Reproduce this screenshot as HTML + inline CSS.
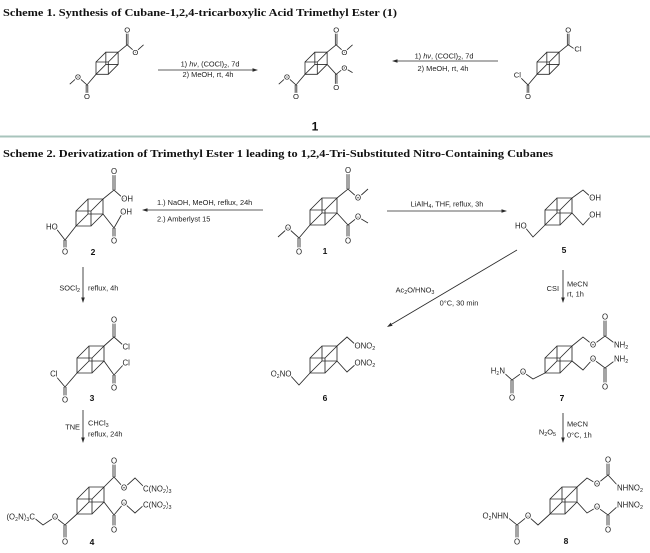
<!DOCTYPE html>
<html><head><meta charset="utf-8"><style>
html,body{margin:0;padding:0;background:#fff;}
svg{display:block;}
.ln{fill:none;stroke:#2a2a2a;stroke-width:0.85;}
.ln9{fill:none;stroke:#2a2a2a;stroke-width:1.0;}
.a{font-family:"Liberation Sans",Arial,sans-serif;font-size:7.8px;fill:#222;paint-order:stroke;stroke:#fff;stroke-width:2.5px;stroke-linejoin:round;}
.a9{font-family:"Liberation Sans",Arial,sans-serif;font-size:9.3px;fill:#222;paint-order:stroke;stroke:#fff;stroke-width:3px;stroke-linejoin:round;}
.r{font-family:"Liberation Sans",Arial,sans-serif;font-size:7.4px;fill:#222;}
.num{font-family:"Liberation Sans",Arial,sans-serif;font-size:8.5px;font-weight:bold;fill:#111;text-anchor:middle;}
.tt{font-family:"Liberation Serif",serif;font-size:11px;font-weight:bold;fill:#111;}
.s{font-size:5.4px;}
.m{text-anchor:middle;}
.e{text-anchor:end;}
</style></head><body>
<svg width="650" height="553" viewBox="0 0 650 553" xmlns="http://www.w3.org/2000/svg">
<defs>
<path id="cube" d="M0,0H15V15H0Z M12,-12H27V3H12Z M0,0L12,-12 M15,0L27,-12 M15,15L27,3 M0,15L12,3"/>
<path id="e1" d="M27,-12L38,-21L48,-12L58,-21M37,-21V-36M39,-21V-36"/>
<path id="e2" d="M27,3L38,15L48,7L58,13M37,15V28M39,15V28"/>
<path id="e4" d="M0,15L-11,28L-22,18L-32,27M-12,28V40M-10,28V40"/>
</defs>

<!-- Titles -->
<text class="tt" x="3" y="16" textLength="394" lengthAdjust="spacingAndGlyphs">Scheme 1. Synthesis of Cubane-1,2,4-tricarboxylic Acid Trimethyl Ester (1)</text>
<rect x="0" y="135.5" width="650" height="2" fill="#a8c4bc"/>
<text class="tt" x="3" y="157" textLength="550" lengthAdjust="spacingAndGlyphs">Scheme 2. Derivatization of Trimethyl Ester 1 leading to 1,2,4-Tri-Substituted Nitro-Containing Cubanes</text>

<!-- ===== Scheme 1 ===== -->
<g transform="translate(96,62) scale(0.82)">
  <g class="ln9"><use href="#cube"/><use href="#e1"/><use href="#e4"/></g>
  <text class="a9 m" x="38" y="-36.2">O</text>
  <text class="a9 m" x="48" y="-8.7">O</text>
  <text class="a9 m" x="-11" y="45.3">O</text>
  <text class="a9 m" x="-22" y="21.3">O</text>
</g>

<g transform="translate(305,62) scale(0.82)">
  <g class="ln9"><use href="#cube"/><use href="#e1"/><use href="#e2"/><use href="#e4"/></g>
  <text class="a9 m" x="38" y="-36.2">O</text>
  <text class="a9 m" x="48" y="-8.7">O</text>
  <text class="a9 m" x="38" y="34.3">O</text>
  <text class="a9 m" x="48" y="10.3">O</text>
  <text class="a9 m" x="-11" y="45.3">O</text>
  <text class="a9 m" x="-22" y="21.3">O</text>
</g>
<text x="315" y="130.3" font-family="Liberation Sans, Arial, sans-serif" font-size="12" font-weight="bold" fill="#111" text-anchor="middle">1</text>

<g transform="translate(537,62) scale(0.82)">
  <g class="ln9"><use href="#cube"/>
    <path d="M27,-12L38,-21L47,-15M37,-21V-36M39,-21V-36 M0,15L-11,28L-20,19M-12,28V40M-10,28V40"/></g>
  <text class="a9 m" x="38" y="-36.2">O</text>
  <text class="a9 m" x="50" y="-12.7">Cl</text>
  <text class="a9 m" x="-11" y="45.3">O</text>
  <text class="a9 m" x="-24" y="19.2">Cl</text>
</g>

<!-- Scheme 1 arrows -->
<g class="ln"><line x1="158" y1="70" x2="253" y2="70"/><line x1="397" y1="61" x2="498" y2="61"/></g>
<polygon points="258,70 252.5,68.2 252.5,71.8" fill="#2a2a2a"/>
<polygon points="392,61 397.5,59.2 397.5,62.8" fill="#2a2a2a"/>
<text class="r m" x="210" y="66.5">1) <tspan font-style="italic">hν</tspan>, (COCl)<tspan class="s" dy="1.5">2</tspan><tspan dy="-1.5">, 7d</tspan></text>
<text class="r m" x="208" y="77">2) MeOH, rt, 4h</text>
<text class="r m" x="444" y="58.5">1) <tspan font-style="italic">hν</tspan>, (COCl)<tspan class="s" dy="1.5">2</tspan><tspan dy="-1.5">, 7d</tspan></text>
<text class="r m" x="443" y="71">2) MeOH, rt, 4h</text>

<!-- ===== Scheme 2 ===== -->
<!-- compound 1 -->
<g transform="translate(310,210)">
  <g class="ln"><use href="#cube"/><use href="#e1"/><use href="#e2"/><use href="#e4"/></g>
  <text class="a m" x="38" y="-36.8">O</text>
  <text class="a m" x="48" y="-9.3">O</text>
  <text class="a m" x="38" y="33.7">O</text>
  <text class="a m" x="48" y="9.7">O</text>
  <text class="a m" x="-11" y="44.7">O</text>
  <text class="a m" x="-22" y="20.7">O</text>
  <text class="num" x="15" y="44">1</text>
</g>

<!-- compound 2 -->
<g transform="translate(76,211)">
  <g class="ln"><use href="#cube"/>
  <path d="M27,-12L38,-21L48,-12 M37,-21V-36M39,-21V-36 M27,3L38,17L47,1 M37,17V28M39,17V28 M0,15L-11,29L-21,16 M-12,29V40M-10,29V40"/></g>
  <text class="a m" x="38" y="-36.8">O</text>
  <text class="a" x="45.3" y="-9.3">OH</text>
  <text class="a m" x="38" y="32.7">O</text>
  <text class="a" x="44.3" y="3.7">OH</text>
  <text class="a m" x="-11" y="43.7">O</text>
  <text class="a e" x="-18.3" y="18.7">HO</text>
  <text class="num" x="17" y="44">2</text>
</g>

<!-- compound 3 -->
<g transform="translate(77,358)">
  <g class="ln"><use href="#cube"/>
  <path d="M27,-12L37,-21L47,-12 M36,-21V-35M38,-21V-35 M27,3L37,17L47,6 M36,17V28M38,17V28 M0,15L-12,29L-22,17 M-13,29V40M-11,29V40"/></g>
  <text class="a m" x="37" y="-35.3">O</text>
  <text class="a" x="45.5" y="-8.3">Cl</text>
  <text class="a m" x="37" y="32.7">O</text>
  <text class="a" x="45.5" y="7.7">Cl</text>
  <text class="a m" x="-12" y="44.7">O</text>
  <text class="a e" x="-19.5" y="18.7">Cl</text>
  <text class="num" x="15" y="43">3</text>
</g>

<!-- compound 4 -->
<g transform="translate(77,499)">
  <g class="ln"><use href="#cube"/>
  <path d="M27,-12L37,-22L47,-11L58,-21L68,-11 M36,-22V-35M38,-22V-35 M27,3L37,16L47,4L58,14L68,5 M36,16V29M38,16V29 M0,15L-12,26L-22,18L-34,26L-44,18 M-13,26V40M-11,26V40"/></g>
  <text class="a m" x="37" y="-35.3">O</text>
  <text class="a m" x="47" y="-8.3">O</text>
  <text class="a" x="66" y="-7.3">C(NO<tspan class="s" dy="1.5">2</tspan><tspan dy="-1.5">)</tspan><tspan class="s" dy="1.5">3</tspan></text>
  <text class="a m" x="37" y="33.7">O</text>
  <text class="a m" x="47" y="6.7">O</text>
  <text class="a" x="66" y="8.7">C(NO<tspan class="s" dy="1.5">2</tspan><tspan dy="-1.5">)</tspan><tspan class="s" dy="1.5">3</tspan></text>
  <text class="a m" x="-12" y="45.7">O</text>
  <text class="a m" x="-22" y="20.7">O</text>
  <text class="a e" x="-42" y="20.7">(O<tspan class="s" dy="1.5">2</tspan><tspan dy="-1.5">N)</tspan><tspan class="s" dy="1.5">3</tspan><tspan dy="-1.5">C</tspan></text>
  <text class="num" x="15" y="46">4</text>
</g>

<!-- compound 5 -->
<g transform="translate(545,210)">
  <g class="ln"><use href="#cube"/>
  <path d="M27,-12L38,-20L47,-12 M27,3L38,15L47,5 M0,15L-12,27L-21,16"/></g>
  <text class="a" x="44.3" y="-9.3">OH</text>
  <text class="a" x="44.3" y="7.7">OH</text>
  <text class="a e" x="-18.3" y="18.7">HO</text>
  <text class="num" x="19" y="43">5</text>
</g>

<!-- compound 6 -->
<g transform="translate(310,358)">
  <g class="ln"><use href="#cube"/>
  <path d="M27,-12L37,-21L47,-12 M27,3L37,14L47,5 M0,15L-11,27L-21,16"/></g>
  <text class="a" x="44.5" y="-9.3">ONO<tspan class="s" dy="1.5">2</tspan></text>
  <text class="a" x="44.5" y="7.7">ONO<tspan class="s" dy="1.5">2</tspan></text>
  <text class="a e" x="-18.5" y="18.7">O<tspan class="s" dy="1.5">2</tspan><tspan dy="-1.5">NO</tspan></text>
  <text class="num" x="15" y="43">6</text>
</g>

<!-- compound 7 -->
<g transform="translate(545,358)">
  <g class="ln"><use href="#cube"/>
  <path d="M27,-12L38,-21L48,-13L60,-22L72,-13 M59,-22V-38M61,-22V-38 M27,3L38,12L48,1L60,10L72,1 M59,10V27M61,10V27 M0,15L-12,21L-22,14L-33,22L-43,13 M-34,22V37M-32,22V37"/></g>
  <text class="a m" x="48" y="-10.3">O</text>
  <text class="a m" x="60" y="-38.3">O</text>
  <text class="a" x="69" y="-10.3">NH<tspan class="s" dy="1.5">2</tspan></text>
  <text class="a m" x="48" y="3.7">O</text>
  <text class="a m" x="60" y="31.7">O</text>
  <text class="a" x="69" y="3.7">NH<tspan class="s" dy="1.5">2</tspan></text>
  <text class="a m" x="-22" y="16.7">O</text>
  <text class="a m" x="-33" y="42.7">O</text>
  <text class="a e" x="-40" y="15.7">H<tspan class="s" dy="1.5">2</tspan><tspan dy="-1.5">N</tspan></text>
  <text class="num" x="17" y="43">7</text>
</g>

<!-- compound 8 -->
<g transform="translate(550,499)">
  <g class="ln"><use href="#cube"/>
  <path d="M27,-12L37,-21L47,-15L58,-24L69,-12 M57,-24V-37M59,-24V-37 M27,3L37,14L47,8L58,16L69,6 M57,16V29M59,16V29 M0,15L-12,26L-22,17L-33,26L-44,17 M-34,26V40M-32,26V40"/></g>
  <text class="a m" x="47" y="-12.3">O</text>
  <text class="a m" x="58" y="-36.3">O</text>
  <text class="a" x="67" y="-8.3">NHNO<tspan class="s" dy="1.5">2</tspan></text>
  <text class="a m" x="47" y="10.7">O</text>
  <text class="a m" x="58" y="33.7">O</text>
  <text class="a" x="67" y="8.7">NHNO<tspan class="s" dy="1.5">2</tspan></text>
  <text class="a m" x="-22" y="19.7">O</text>
  <text class="a m" x="-33" y="45.7">O</text>
  <text class="a e" x="-41.5" y="19.7">O<tspan class="s" dy="1.5">2</tspan><tspan dy="-1.5">NHN</tspan></text>
  <text class="num" x="16" y="45">8</text>
</g>

<!-- Scheme 2 arrows -->
<g class="ln">
  <line x1="147" y1="210" x2="263" y2="210"/>
  <line x1="387" y1="211" x2="502" y2="211"/>
  <line x1="517" y1="250" x2="392" y2="324"/>
  <line x1="563" y1="270" x2="563" y2="298"/>
  <line x1="83" y1="267" x2="83" y2="298"/>
  <line x1="83" y1="410" x2="83" y2="438"/>
  <line x1="563" y1="413" x2="563" y2="438"/>
</g>
<g fill="#2a2a2a">
  <polygon points="142,210 147.5,208.2 147.5,211.8"/>
  <polygon points="507,211 501.5,209.2 501.5,212.8"/>
  <polygon points="387,327 392.6,325.7 390.8,322.6"/>
  <polygon points="563,303 561.2,297.5 564.8,297.5"/>
  <polygon points="83,303 81.2,297.5 84.8,297.5"/>
  <polygon points="83,443 81.2,437.5 84.8,437.5"/>
  <polygon points="563,443 561.2,437.5 564.8,437.5"/>
</g>

<!-- Scheme 2 reagent text -->
<text class="r" x="157" y="205">1.) NaOH, MeOH, reflux, 24h</text>
<text class="r" x="157" y="221.5">2.) Amberlyst 15</text>
<text class="r m" x="447" y="206.5">LiAlH<tspan class="s" dy="1.5">4</tspan><tspan dy="-1.5">, THF, reflux, 3h</tspan></text>
<text class="r m" x="415" y="292.5">Ac<tspan class="s" dy="1.5">2</tspan><tspan dy="-1.5">O/HNO</tspan><tspan class="s" dy="1.5">3</tspan></text>
<text class="r m" x="459" y="305.5">0°C, 30 min</text>
<text class="r e" x="559" y="291" font-size="7.8">CSI</text>
<text class="r" x="567" y="286.5">MeCN</text>
<text class="r" x="567" y="296.5">rt, 1h</text>
<text class="r e" x="80" y="290.5">SOCl<tspan class="s" dy="1.5">2</tspan></text>
<text class="r" x="88" y="290.5">reflux, 4h</text>
<text class="r e" x="80" y="429.5">TNE</text>
<text class="r" x="88" y="425.5">CHCl<tspan class="s" dy="1.5">3</tspan></text>
<text class="r" x="88" y="436.5">reflux, 24h</text>
<text class="r e" x="556" y="434.5">N<tspan class="s" dy="1.5">2</tspan><tspan dy="-1.5">O</tspan><tspan class="s" dy="1.5">5</tspan></text>
<text class="r" x="567" y="426.5">MeCN</text>
<text class="r" x="567" y="437.5">0°C, 1h</text>
</svg>
</body></html>
